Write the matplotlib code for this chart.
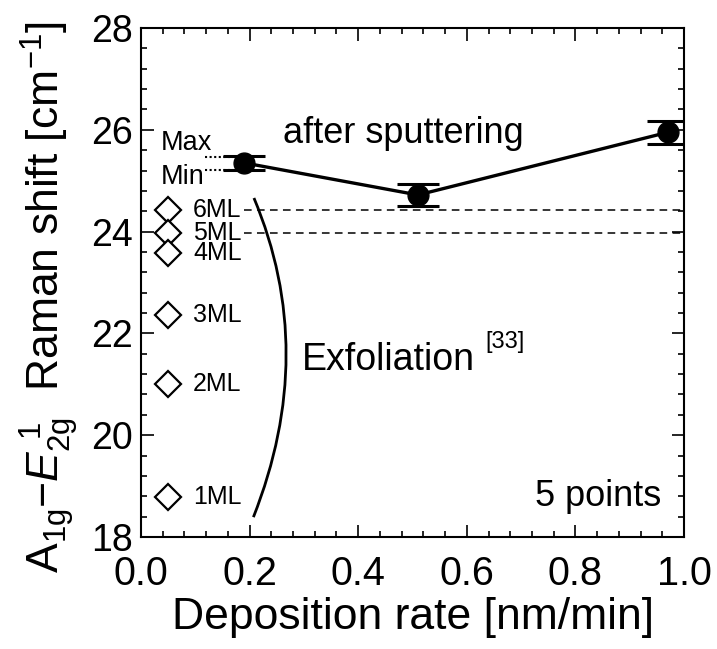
import matplotlib
matplotlib.use("Agg")
import matplotlib.pyplot as plt
from matplotlib.path import Path
from matplotlib.patches import PathPatch
from matplotlib.ticker import MultipleLocator

plt.rcParams['font.family'] = ['Liberation Sans', 'DejaVu Sans']
plt.rcParams['mathtext.fontset'] = 'custom'
plt.rcParams['mathtext.rm'] = 'Liberation Sans'
plt.rcParams['mathtext.it'] = 'Liberation Sans:italic'
plt.rcParams['mathtext.bf'] = 'Liberation Sans:bold'

# Sputtered films: deposition rate vs. A1g - E2g^1 peak separation
rate = [0.19, 0.51, 0.97]
shift = [25.35, 24.72, 25.95]
shift_err = [0.13, 0.21, 0.23]

# Exfoliated reference flakes (layer number)
ml_labels = ["6ML", "5ML", "4ML", "3ML", "2ML", "1ML"]
ml_shift = [24.42, 23.97, 23.57, 22.36, 21.00, 18.79]
ml_x = 0.05

# Max / Min of the 0.19 nm/min sample
max_min = [25.46, 25.21]

# Exfoliation guide curve (quadratic Bezier: start, control, end)
exf_curve = [(0.208, 24.66), (0.327, 21.63), (0.207, 18.39)]

fig = plt.figure(figsize=(7.17, 6.49), dpi=100)
ax = fig.add_axes([141 / 717, 1 - 537 / 649, 543 / 717, 509 / 649])

ax.set_xlim(0.0, 1.0)
ax.set_ylim(18, 28)

# reference lines for 6ML and 5ML
for v in ml_shift[:2]:
    ax.plot([0.19, 1.0], [v, v], color='black', lw=1.1,
            ls=(0, (5, 3.5)), zorder=1)

# dotted Max / Min guides
for v in max_min:
    ax.plot([0.118, 0.17], [v, v], color='black', lw=1.5,
            ls=(0, (1, 1.2)), zorder=2)
ax.text(0.036, 25.75, "Max", fontsize=19.5, ha='left', va='center')
ax.text(0.036, 25.07, "Min", fontsize=19.5, ha='left', va='center')

# sputtered series
ax.errorbar(rate, shift, yerr=shift_err, fmt='o', color='black',
            ms=15, elinewidth=1.5, capsize=15, capthick=2.2, zorder=4)
ax.plot(rate, shift, color='black', lw=2.4, zorder=3)

# exfoliated flakes
ax.plot([ml_x] * len(ml_shift), ml_shift, ls='none', marker='D',
        ms=13.5, mfc='white', mec='black', mew=1.6, zorder=3)
for lab, v in zip(ml_labels, ml_shift):
    ax.text(0.096, v, lab, fontsize=18, ha='left', va='center')

# exfoliation curve
path = Path(exf_curve, [Path.MOVETO, Path.CURVE3, Path.CURVE3])
ax.add_patch(PathPatch(path, facecolor='none', edgecolor='black', lw=2.0))

ax.text(0.297, 21.28, "Exfoliation", fontsize=27, ha='left', va='baseline')
ax.text(0.634, 21.83, "[33]", fontsize=17, ha='left', va='center')
ax.text(0.2615, 25.74, "after sputtering", fontsize=26, ha='left',
        va='baseline')
ax.text(0.958, 18.6, "5 points", fontsize=26, ha='right', va='baseline')

# axes styling
ax.xaxis.set_major_locator(MultipleLocator(0.2))
ax.xaxis.set_minor_locator(MultipleLocator(0.04))
ax.yaxis.set_major_locator(MultipleLocator(2))
ax.yaxis.set_minor_locator(MultipleLocator(0.4))
ax.set_xticks([0.0, 0.2, 0.4, 0.6, 0.8, 1.0])
ax.set_xticklabels(["0.0", "0.2", "0.4", "0.6", "0.8", "1.0"])
ax.tick_params(which='both', direction='in', top=True, right=True,
               width=1.2)
ax.tick_params(axis='x', labelsize=28.5, pad=13)
ax.tick_params(axis='y', labelsize=27, pad=6)
ax.tick_params(which='major', length=9)
ax.tick_params(which='minor', length=4.5)
for s in ax.spines.values():
    s.set_linewidth(1.5)

ax.set_xlabel("Deposition rate [nm/min]", fontsize=32, labelpad=3)
fig.text(50 / 717, 1 - 297 / 649,
         r"$\mathrm{A}_{\mathrm{1g}}\mathrm{-}\mathit{E}_{\mathrm{2g}}^{\ \mathrm{1}}$"
         r"  Raman shift [cm$^{-1}$]",
         rotation=90, fontsize=32, ha='center', va='center')

fig.savefig("out.png", dpi=100)
